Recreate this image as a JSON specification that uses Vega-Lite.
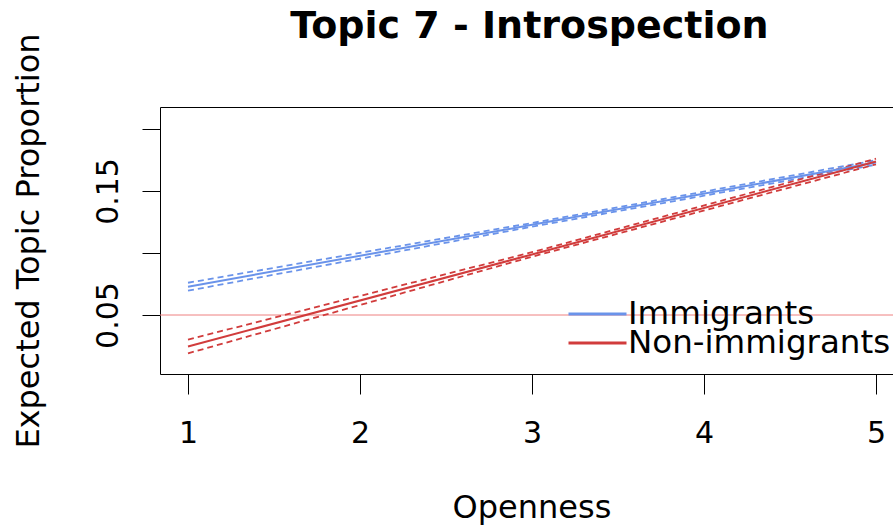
{
  "$schema": "https://vega.github.io/schema/vega-lite/v6.json",
  "width": 733,
  "height": 267,
  "autosize": {"type": "none"},
  "padding": {"left": 160, "top": 107, "right": 0, "bottom": 153},
  "background": "white",
  "title": {
    "text": "Topic 7 - Introspection",
    "font": "DejaVu Sans",
    "fontSize": 38,
    "fontWeight": "bold",
    "color": "black",
    "anchor": "middle",
    "baseline": "alphabetic",
    "offset": 0,
    "dy": 43,
    "dx": 3
  },
  "data": {
    "values": [
      {"group": "Immigrants", "openness": 1, "est": 0.0728, "lo": 0.0696, "hi": 0.0760},
      {"group": "Immigrants", "openness": 3, "est": 0.1227, "lo": 0.1212, "hi": 0.1242},
      {"group": "Immigrants", "openness": 5, "est": 0.1730, "lo": 0.1712, "hi": 0.1748},
      {"group": "Non-immigrants", "openness": 1, "est": 0.0246, "lo": 0.0191, "hi": 0.0302},
      {"group": "Non-immigrants", "openness": 3, "est": 0.0988, "lo": 0.0970, "hi": 0.1006},
      {"group": "Non-immigrants", "openness": 5, "est": 0.1738, "lo": 0.1715, "hi": 0.1760}
    ]
  },
  "layer": [
    {
      "data": {"values": [{"h": 0.05}]},
      "mark": {"type": "rule", "color": "#EE8080", "strokeWidth": 1},
      "encoding": {
        "y": {
          "field": "h", "type": "quantitative",
          "scale": {"domain": [0.00244, 0.2177], "nice": false, "zero": false},
          "axis": {
            "values": [0.05, 0.1, 0.15, 0.2], "tickSize": 18, "labelAngle": 270, "labelAlign": "center",
            "labelBaseline": "alphabetic", "labelPadding": 25, "labelFontSize": 30,
            "labelExpr": "datum.value == 0.05 || datum.value == 0.15 ? format(datum.value, '.2f') : ''",
            "title": "Expected Topic Proportion", "titleFontSize": 32, "titleAngle": 270,
            "titleBaseline": "alphabetic", "titleX": -122, "titleY": 133.5, "titleAlign": "center",
            "labelOverlap": false, "labelFlush": false
          }
        }
      }
    },
    {
      "transform": [{"fold": ["lo", "hi"], "as": ["bound", "value"]}],
      "mark": {"type": "line", "strokeWidth": 1.8, "strokeDash": [6, 4]},
      "encoding": {
        "x": {
          "field": "openness", "type": "quantitative",
          "scale": {"domain": [0.8372, 5.0988], "nice": false, "zero": false},
          "axis": {"orient": "top", "labels": false, "ticks": false, "title": null, "domain": true}
        },
        "y": {
          "field": "value", "type": "quantitative",
          "axis": {
            "values": [0.05, 0.1, 0.15, 0.2], "tickSize": 18, "labelAngle": 270, "labelAlign": "center",
            "labelBaseline": "alphabetic", "labelPadding": 25, "labelFontSize": 30,
            "labelExpr": "datum.value == 0.05 || datum.value == 0.15 ? format(datum.value, '.2f') : ''",
            "title": "Expected Topic Proportion", "titleFontSize": 32, "titleAngle": 270,
            "titleBaseline": "alphabetic", "titleX": -122, "titleY": 133.5, "titleAlign": "center",
            "labelOverlap": false, "labelFlush": false
          }
        },
        "color": {"field": "group", "type": "nominal"},
        "detail": {"field": "bound", "type": "nominal"}
      }
    },
    {
      "mark": {"type": "line", "strokeWidth": 2},
      "encoding": {
        "x": {
          "field": "openness", "type": "quantitative",
          "axis": {
            "orient": "bottom", "values": [1, 2, 3, 4, 5], "tickSize": 20, "labelPadding": 24,
            "labelFontSize": 30, "labelOverlap": false, "labelFlush": false,
            "title": "Openness", "titleFontSize": 32, "titleBaseline": "alphabetic",
            "titleX": 371.5, "titleY": 143, "titleAlign": "center"
          }
        },
        "y": {
          "field": "est", "type": "quantitative",
          "axis": {
            "values": [0.05, 0.1, 0.15, 0.2], "tickSize": 18, "labelAngle": 270, "labelAlign": "center",
            "labelBaseline": "alphabetic", "labelPadding": 25, "labelFontSize": 30,
            "labelExpr": "datum.value == 0.05 || datum.value == 0.15 ? format(datum.value, '.2f') : ''",
            "title": "Expected Topic Proportion", "titleFontSize": 32, "titleAngle": 270,
            "titleBaseline": "alphabetic", "titleX": -122, "titleY": 133.5, "titleAlign": "center",
            "labelOverlap": false, "labelFlush": false
          }
        },
        "color": {
          "field": "group", "type": "nominal",
          "scale": {"domain": ["Immigrants", "Non-immigrants"], "range": ["#6A93EA", "#D13C3C"]},
          "legend": {
            "orient": "none", "legendX": 407, "legendY": 195, "title": null,
            "symbolType": "stroke", "symbolSize": 3364, "symbolStrokeWidth": 3,
            "symbolDash": [1, 0], "labelFontSize": 32.5, "labelOffset": 0, "rowPadding": -4,
            "clipHeight": 24,
            "padding": 0, "labelColor": "black", "labelLimit": 0
          }
        }
      }
    }
  ],
  "resolve": {"axis": {"x": "independent"}},
  "config": {
    "font": "DejaVu Sans",
    "view": {"stroke": null},
    "axis": {
      "grid": false, "domainColor": "black", "tickColor": "black", "labelColor": "black",
      "titleColor": "black", "titleFontWeight": "normal", "domainWidth": 1, "tickWidth": 1,
      "labelFont": "DejaVu Sans", "titleFont": "DejaVu Sans"
    },
    "legend": {"labelFont": "DejaVu Sans"}
  }
}
